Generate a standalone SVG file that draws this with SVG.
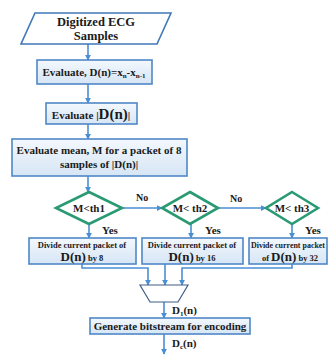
<svg xmlns="http://www.w3.org/2000/svg" width="328" height="356" viewBox="0 0 328 356">
<defs>
<linearGradient id="bx" x1="0" y1="0" x2="0" y2="1">
<stop offset="0" stop-color="#f3f8fd"/>
<stop offset="1" stop-color="#d6e5f5"/>
</linearGradient>
<marker id="ah" viewBox="0 0 8 8" refX="7" refY="4" markerWidth="6" markerHeight="6" markerUnits="userSpaceOnUse" orient="auto">
<path d="M0,0 L8,4 L0,8 Z" fill="#4a8fd6"/>
</marker>
</defs>
<style>
.box{fill:url(#bx);stroke:#4f88c6;stroke-width:1.6}
.para{fill:#ffffff;stroke:#3f78b8;stroke-width:1.6}
.dia{fill:#ffffff;stroke:#2a9a72;stroke-width:2.6}
.mux{fill:#ffffff;stroke:#3c5f86;stroke-width:1.2}
.t{font-family:"Liberation Serif","Times New Roman",serif;font-weight:bold;fill:#1a1a1a}
.c{stroke:#4a8fd6;stroke-width:1.6;fill:none}
.a{marker-end:url(#ah)}
</style>
<g id="connectors">
<line class="c a" x1="88" y1="44" x2="88" y2="60"/>
<line class="c a" x1="88" y1="84" x2="88" y2="103"/>
<line class="c a" x1="88" y1="124" x2="88" y2="139"/>
<line class="c a" x1="88" y1="176" x2="88" y2="192"/>
<line class="c a" x1="122" y1="208" x2="162" y2="208"/>
<line class="c a" x1="218" y1="208" x2="266" y2="208"/>
<line class="c a" x1="89" y1="224" x2="89" y2="238"/>
<line class="c a" x1="191" y1="224" x2="191" y2="238"/>
<line class="c a" x1="292" y1="224" x2="292" y2="238"/>
<polyline class="c a" points="82,264 82,268 148,268 148,285"/>
<line class="c a" x1="165" y1="264" x2="165" y2="285"/>
<polyline class="c a" points="292,264 292,268 182,268 182,285"/>
<line class="c a" x1="164" y1="302" x2="164" y2="318"/>
<line class="c a" x1="164" y1="334" x2="164" y2="354"/>
<text class="t" x="136" y="201" font-size="10">No</text>
<text class="t" x="230" y="202" font-size="10">No</text>
<text class="t" x="102" y="234" font-size="11">Yes</text>
<text class="t" x="205" y="234" font-size="11">Yes</text>
<text class="t" x="305" y="234" font-size="11">Yes</text>
<text class="t" x="172" y="314" font-size="11">D<tspan font-size="7" dy="2">1</tspan><tspan dy="-2">(n)</tspan></text>
<text class="t" x="172" y="347" font-size="11">D<tspan font-size="7" dy="2">c</tspan><tspan dy="-2">(n)</tspan></text>
</g>
<g id="input">
<polygon class="para" points="35,13 171,13 157,44 21,44"/>
<text class="t" x="96" y="26" font-size="12.5" text-anchor="middle">Digitized ECG</text>
<text class="t" x="96" y="39.5" font-size="12.5" text-anchor="middle">Samples</text>
</g>
<g id="diff">
<rect class="box" x="37" y="60" width="115" height="24"/>
<text class="t" x="94" y="76" font-size="11" text-anchor="middle">Evaluate, D(n)=x<tspan font-size="7" dy="2">n</tspan><tspan dy="-2">-x</tspan><tspan font-size="7" dy="2">n-1</tspan></text>
</g>
<g id="abs">
<rect class="box" x="46" y="103" width="91" height="21"/>
<text class="t" x="91" y="119" font-size="11" text-anchor="middle">Evaluate |<tspan font-size="15">D(n)</tspan>|</text>
</g>
<g id="mean">
<rect class="box" x="12" y="139" width="175" height="37"/>
<text class="t" x="99" y="154" font-size="11" text-anchor="middle">Evaluate mean, M for a packet of 8</text>
<text class="t" x="99" y="168" font-size="11" text-anchor="middle">samples of |D(n)|</text>
</g>
<g id="th1">
<polygon class="dia" points="89,192 122,208 89,224 56,208"/>
<text class="t" x="89" y="212" font-size="11" text-anchor="middle">M&lt;th1</text>
</g>
<g id="th2">
<polygon class="dia" points="190,192 218,208 190,224 162,208"/>
<text class="t" x="190" y="212" font-size="11" text-anchor="middle">M&lt; th2</text>
</g>
<g id="th3">
<polygon class="dia" points="292,192 318,208 292,224 266,208"/>
<text class="t" x="292" y="212" font-size="11" text-anchor="middle">M&lt; th3</text>
</g>
<g id="div8">
<rect class="box" x="29" y="238" width="107" height="26"/>
<text class="t" x="82" y="248" font-size="8.5" text-anchor="middle">Divide current packet of</text>
<text class="t" x="82" y="261" font-size="8.5" text-anchor="middle"><tspan font-size="13">D(n)</tspan> by 8</text>
</g>
<g id="div16">
<rect class="box" x="142" y="238" width="101" height="26"/>
<text class="t" x="192" y="248" font-size="8.5" text-anchor="middle">Divide current packet of</text>
<text class="t" x="192" y="261" font-size="8.5" text-anchor="middle"><tspan font-size="13">D(n)</tspan> by 16</text>
</g>
<g id="div32">
<rect class="box" x="249" y="238" width="78" height="26"/>
<text class="t" x="251" y="248" font-size="8" textLength="74" lengthAdjust="spacingAndGlyphs">Divide current packet</text>
<text class="t" x="290" y="261" font-size="8.5" text-anchor="middle">of <tspan font-size="13">D(n)</tspan> by 32</text>
</g>
<g id="mux">
<polygon class="mux" points="140,285 188,285 178,302 150,302"/>
</g>
<g id="bitstream">
<rect class="box" x="90" y="318" width="160" height="16"/>
<text class="t" x="170" y="330" font-size="11" text-anchor="middle">Generate bitstream for encoding</text>
</g>
</svg>
